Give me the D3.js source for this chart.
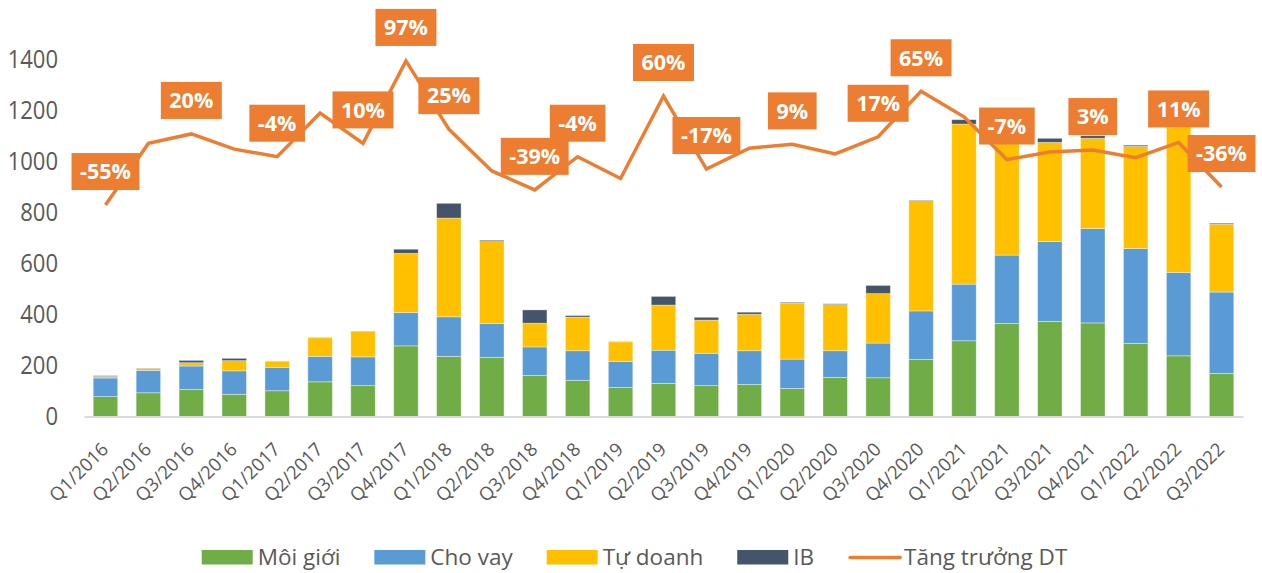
<!DOCTYPE html>
<html><head><meta charset="utf-8">
<script src="https://cdn.jsdelivr.net/npm/d3@7"></script>
<style>body{margin:0;background:#fff}svg{display:block}</style>
</head><body>
<svg id="c" width="1262" height="573"></svg>
<script>
const categories = ["Q1/2016","Q2/2016","Q3/2016","Q4/2016","Q1/2017","Q2/2017","Q3/2017","Q4/2017",
  "Q1/2018","Q2/2018","Q3/2018","Q4/2018","Q1/2019","Q2/2019","Q3/2019","Q4/2019",
  "Q1/2020","Q2/2020","Q3/2020","Q4/2020","Q1/2021","Q2/2021","Q3/2021","Q4/2021",
  "Q1/2022","Q2/2022","Q3/2022"];
const moiGioi = [78,93,106,87,101,136,121,277,236,232,161,142,114,130,121,126,110,153,152,224,297,365,373,367,287,238,169];
const choVay  = [73,88,92,92,92,100,113,131,155,133,112,116,102,130,127,132,115,105,136,190,222,268,313,370,372,327,319];
const tuDoanh = [6,8,13,40,24,73,100,232,387,321,93,132,77,177,130,143,220,181,194,429,628,443,389,354,400,570,266];
const ib      = [3,1,9,9,0,1,1,16,58,5,52,6,1,34,11,8,3,3,32,4,17,4,16,10,5,5,4];
const growth  = [-55,10,20,4,-4,42,10,97,25,-19,-39,-4,-27,60,-17,5,9,-1,17,65,38,-7,1,3,-5,11,-36];
const growthLabelShown = [1,0,1,0,1,0,1,1,1,0,1,1,0,1,1,0,1,0,1,1,0,1,0,1,0,1,1];
const yTicks = [0,200,400,600,800,1000,1200,1400];
const seriesNames = ["Môi giới","Cho vay","Tự doanh","IB"];
const lineName = "Tăng trưởng DT";
const colors = ["#70AD47","#5B9BD5","#FFC000","#44546A"];
const lineColor = "#ED7D31";

const svg = d3.select("#c");
const FONT = "'Open Sans', 'Noto Sans', sans-serif";
const textColor = "#595959";

const x = d3.scaleBand().domain(categories).range([84, 1243]).paddingInner(0.43).paddingOuter(0.215);
const y = d3.scaleLinear().domain([0, 1400]).range([416.5, 59.5]);
const y2 = d3.scaleLinear().domain([-278, 98.5]).range([416.5, 59.5]);

const rows = categories.map((c, i) => ({cat: c, s0: moiGioi[i], s1: choVay[i], s2: tuDoanh[i], s3: ib[i]}));
const stack = d3.stack().keys(["s0","s1","s2","s3"])(rows);

// bars
const gBars = svg.append("g");
stack.forEach((layer, li) => {
  gBars.selectAll(null).data(layer).enter().append("rect")
    .attr("x", d => x(d.data.cat))
    .attr("width", x.bandwidth())
    .attr("y", d => y(d[1]))
    .attr("height", d => Math.max(0, y(d[0]) - y(d[1])))
    .attr("fill", colors[li])
    .attr("stroke", "rgba(255,255,255,0.45)")
    .attr("stroke-width", 0.8);
});

// x axis
const xAxis = svg.append("g").attr("transform", `translate(0,${y(0)})`)
  .call(d3.axisBottom(x).tickSize(0).tickSizeOuter(0).tickFormat(""));
xAxis.select(".domain").attr("stroke", "#d9d9d9").attr("stroke-width", 2);

svg.append("g").selectAll("text").data(categories).enter().append("text")
  .attr("transform", d => `translate(${x(d) + x.bandwidth()/2 + 4},${y(0) + 34}) rotate(-45)`)
  .attr("text-anchor", "end")
  .attr("font-family", FONT).attr("font-size", 18.5).attr("fill", textColor)
  .text(d => d);

// y axis
const yAxis = svg.append("g").attr("transform", "translate(84,0)")
  .call(d3.axisLeft(y).tickValues(yTicks).tickFormat(d3.format("d")).tickSize(0).tickPadding(26));
yAxis.select(".domain").remove();
yAxis.selectAll("text").attr("font-family", FONT).attr("font-size", 22).attr("fill", textColor)
  .attr("transform", "scale(1,1.16)");

// line
const cx = c => x(c) + x.bandwidth()/2;
svg.append("path").datum(growth)
  .attr("d", d3.line().x((d, i) => cx(categories[i])).y(d => y2(d)))
  .attr("fill", "none").attr("stroke", lineColor).attr("stroke-width", 3.5)
  .attr("stroke-linejoin", "miter");

// data labels
const gLab = svg.append("g");
growth.forEach((v, i) => {
  if (!growthLabelShown[i]) return;
  const px = cx(categories[i]), py = y2(v) - 33.5;
  const g = gLab.append("g");
  const rect = g.append("rect").attr("fill", lineColor);
  const t = g.append("text").attr("x", px).attr("y", py).attr("dy", "0.36em")
    .attr("text-anchor", "middle").attr("font-family", FONT).attr("font-weight", 700)
    .attr("font-size", 21.5).attr("fill", "#fff").text(v + "%");
  const w = t.node().getComputedTextLength() + 17;
  rect.attr("x", px - w/2).attr("y", py - 18.5).attr("width", w).attr("height", 37);
});

// legend
const legendItems = seriesNames.map((n, i) => ({name: n, color: colors[i], type: "rect"}))
  .concat([{name: lineName, color: lineColor, type: "line"}]);
const gLeg = svg.append("g");
let xpos = 0;
legendItems.forEach(it => {
  const g = gLeg.append("g");
  if (it.type === "rect") {
    g.append("rect").attr("x", xpos).attr("y", -7.5).attr("width", 51).attr("height", 14.5).attr("fill", it.color);
  } else {
    g.append("line").attr("x1", xpos + 2).attr("x2", xpos + 52).attr("y1", 0).attr("y2", 0)
      .attr("stroke", it.color).attr("stroke-width", 3.5).attr("stroke-linecap", "round");
  }
  const t = g.append("text").attr("x", xpos + 56).attr("y", 0).attr("dy", "0.33em")
    .attr("font-family", FONT).attr("font-size", 22.5).attr("fill", textColor).text(it.name);
  xpos += 56 + t.node().getComputedTextLength() + 34;
});
const totalW = xpos - 34;
gLeg.attr("transform", `translate(${634.5 - totalW/2},557.5)`);
</script>
</body></html>
